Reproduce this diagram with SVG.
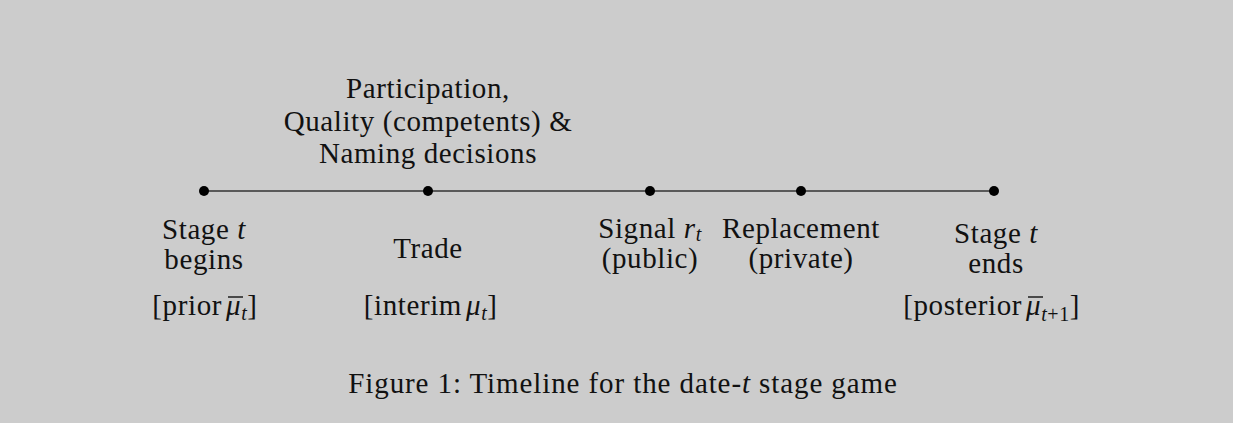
<svg xmlns="http://www.w3.org/2000/svg" width="1233" height="423" viewBox="0 0 1233 423">
<style>
text{font-family:"Liberation Serif","DejaVu Serif",serif;font-size:29px;letter-spacing:0.6px;fill:#111;text-anchor:middle}
text.e{text-anchor:end}
text.b{text-anchor:start}
.i{font-style:italic}
.s{font-size:20px;font-style:italic}
.s2{font-size:20px}
.dot{fill:#000}
.ov{stroke:#111;stroke-width:1.4}
</style>
<rect x="0" y="0" width="1233" height="423" fill="#cccccc"/>
<g id="connectors">
<line x1="204" y1="191" x2="994" y2="191" stroke="#333" stroke-width="1.6"/>
</g>
<g id="n-begin">
<circle class="dot" cx="204" cy="191" r="5"/>
<text x="204" y="239">Stage <tspan class="i">t</tspan></text>
<text x="204" y="269">begins</text>
<text class="e" x="222" y="315">[prior</text>
<text class="b" x="226" y="315"><tspan class="i">μ</tspan><tspan class="s" dy="5">t</tspan><tspan dy="-5">]</tspan></text>
<line class="ov" x1="228" y1="297" x2="243" y2="297"/>
</g>
<g id="n-trade">
<circle class="dot" cx="428" cy="191" r="5"/>
<text x="428" y="98">Participation,</text>
<text x="428" y="131">Quality (competents) &amp;</text>
<text x="428" y="163">Naming decisions</text>
<text x="428" y="258">Trade</text>
<text class="e" x="462" y="315">[interim</text>
<text class="b" x="466" y="315"><tspan class="i">μ</tspan><tspan class="s" dy="5">t</tspan><tspan dy="-5">]</tspan></text>
</g>
<g id="n-signal">
<circle class="dot" cx="650" cy="191" r="5"/>
<text x="650" y="238">Signal <tspan class="i">r</tspan><tspan class="s" dy="3">t</tspan></text>
<text x="650" y="268">(public)</text>
</g>
<g id="n-replace">
<circle class="dot" cx="801" cy="191" r="5"/>
<text x="801" y="238">Replacement</text>
<text x="801" y="268">(private)</text>
</g>
<g id="n-end">
<circle class="dot" cx="994" cy="191" r="5"/>
<text x="996" y="243">Stage <tspan class="i">t</tspan></text>
<text x="996" y="273">ends</text>
<text class="e" x="1022" y="315">[posterior</text>
<text class="b" x="1026" y="315"><tspan class="i">μ</tspan><tspan class="s" dy="6">t</tspan><tspan class="s2">+1</tspan><tspan dy="-6">]</tspan></text>
<line class="ov" x1="1028" y1="297" x2="1043" y2="297"/>
</g>
<g id="caption">
<text x="623" y="393" style="letter-spacing:0.9px">Figure 1: Timeline for the date-<tspan class="i">t</tspan> stage game</text>
</g>
</svg>
